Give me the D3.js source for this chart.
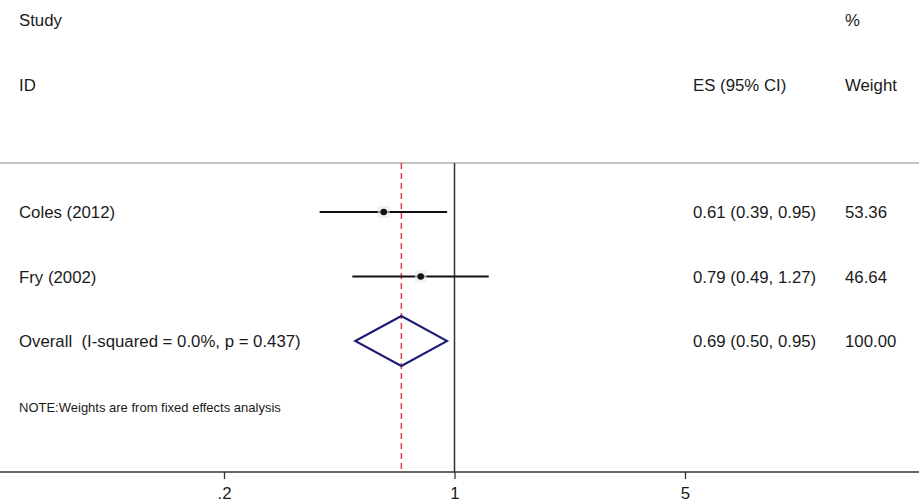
<!DOCTYPE html>
<html><head><meta charset="utf-8">
<script src="https://cdn.jsdelivr.net/npm/d3@7"></script>
<style>body{margin:0;background:#fff}svg{display:block}text{font-family:"Liberation Sans",Arial,sans-serif;fill:#1a1a1a;white-space:pre}</style>
</head><body><svg id="c" width="919" height="502"></svg>
<script>
const studies = ["Coles (2012)", "Fry (2002)"];
const es = [0.61, 0.79];
const lo = [0.39, 0.49];
const hi = [0.95, 1.27];
const weights = ["53.36", "46.64"];
const overallLabel = "Overall  (I-squared = 0.0%, p = 0.437)";
const overall = {es: 0.69, lo: 0.50, hi: 0.95, weight: "100.00"};
const ticks = [0.2, 1, 5];
const tickLabels = [".2", "1", "5"];

const svg = d3.select("#c");
const x = d3.scaleLog().domain([0.2, 5]).range([224, 685]);
const rowY = d3.scalePoint().domain([...studies, overallLabel]).range([212, 341]);
const axisY = 472, topY = 163;
const fmt = d3.format(".2f");
const FS = 16.8;

// header
const hdr = [["Study",19,26],["ID",19,91],["ES (95% CI)",693,91],["%",845,26],["Weight",845,91]];
svg.selectAll("text.h").data(hdr).join("text").attr("class","h")
  .attr("x",d=>d[1]).attr("y",d=>d[2]).attr("font-size",FS).text(d=>d[0]);

// separator
svg.append("line").attr("x1",0).attr("x2",919).attr("y1",topY).attr("y2",topY).attr("stroke","#888").attr("stroke-width",1);

// null line
svg.append("line").attr("x1",x(1)).attr("x2",x(1)).attr("y1",topY).attr("y2",axisY).attr("stroke","#333").attr("stroke-width",1.5);
// overall dashed line
svg.append("line").attr("x1",x(overall.es)).attr("x2",x(overall.es)).attr("y1",topY).attr("y2",axisY)
  .attr("stroke","#e0404a").attr("stroke-width",1.5).attr("stroke-dasharray","6,4");

// axis
const ax = svg.append("g").attr("transform",`translate(0,${axisY})`)
  .call(d3.axisBottom(x).tickValues(ticks).tickFormat((d,i)=>tickLabels[i]).tickSize(7).tickPadding(8));
ax.select(".domain").remove();
ax.selectAll(".tick line").attr("stroke","#333").attr("stroke-width",1.3);
ax.selectAll(".tick text").attr("font-size",FS).attr("font-family","Liberation Sans, Arial, sans-serif").attr("fill","#1a1a1a");
svg.append("line").attr("x1",0).attr("x2",919).attr("y1",axisY).attr("y2",axisY).attr("stroke","#333").attr("stroke-width",1.3);

// studies
studies.forEach((s,i)=>{
  const y = rowY(s);
  svg.append("text").attr("x",19).attr("y",y+6).attr("font-size",FS).text(s);
  svg.append("line").attr("x1",x(lo[i])).attr("x2",x(hi[i])).attr("y1",y).attr("y2",y).attr("stroke","#111").attr("stroke-width",2);
  svg.append("rect").attr("x",x(es[i])-6).attr("y",y-6).attr("width",12).attr("height",12).attr("fill","#e8e8e8").attr("opacity",0.6);
  svg.append("circle").attr("cx",x(es[i])).attr("cy",y).attr("r",3.3).attr("fill","#111");
  svg.append("text").attr("x",693).attr("y",y+6).attr("font-size",FS).text(`${fmt(es[i])} (${fmt(lo[i])}, ${fmt(hi[i])})`);
  svg.append("text").attr("x",845).attr("y",y+6).attr("font-size",FS).text(weights[i]);
});

// overall
const oy = rowY(overallLabel);
svg.append("text").attr("x",19).attr("y",oy+6).attr("font-size",FS).text(overallLabel);
const dh = 25;
svg.append("path").attr("d",`M${x(overall.lo)},${oy}L${x(overall.es)},${oy-dh}L${x(overall.hi)},${oy}L${x(overall.es)},${oy+dh}Z`)
  .attr("fill","none").attr("stroke","#1c1c78").attr("stroke-width",2);
svg.append("text").attr("x",693).attr("y",oy+6).attr("font-size",FS).text(`${fmt(overall.es)} (${fmt(overall.lo)}, ${fmt(overall.hi)})`);
svg.append("text").attr("x",845).attr("y",oy+6).attr("font-size",FS).text(overall.weight);

svg.append("text").attr("x",19).attr("y",412).attr("font-size",13).text("NOTE:Weights are from fixed effects analysis");
</script></body></html>
